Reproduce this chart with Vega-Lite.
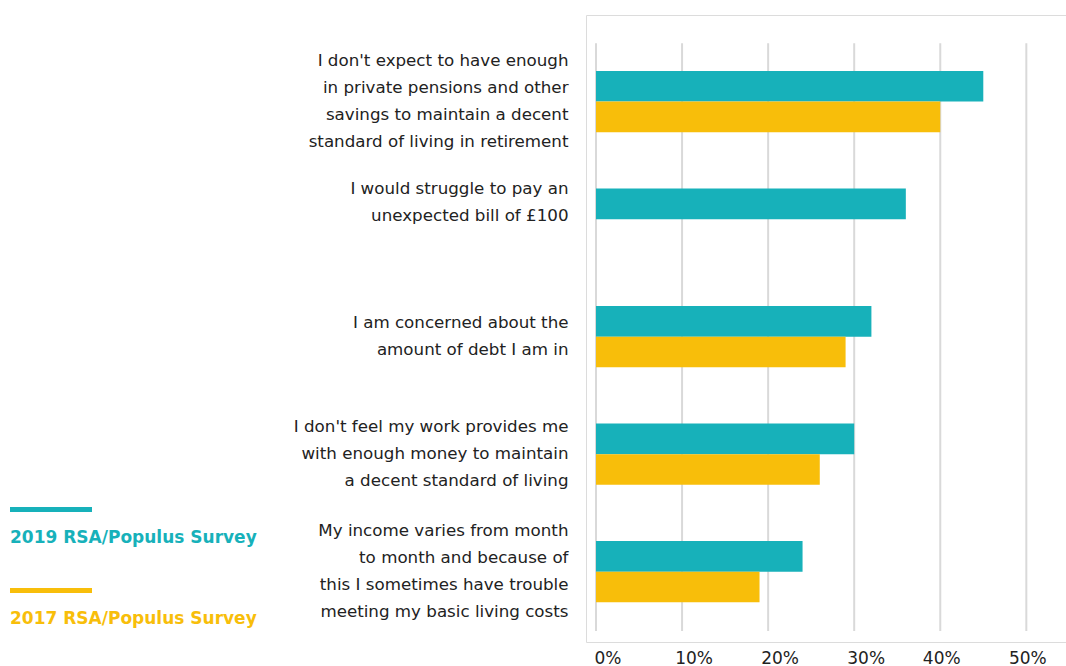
{
  "$schema": "https://vega.github.io/schema/vega-lite/v6.json",
  "width": 480,
  "height": 627,
  "autosize": "none",
  "padding": {"left": 586, "top": 15, "right": 0, "bottom": 24},
  "background": "white",
  "config": {
    "view": {"stroke": "#dcdcdc", "strokeWidth": 1},
    "font": "DejaVu Sans"
  },
  "datasets": {
    "survey": [
      {"statement": "I don't expect to have enough\nin private pensions and other\nsavings to maintain a decent\nstandard of living in retirement", "survey": "2019 RSA/Populus Survey", "pct": 45},
      {"statement": "I don't expect to have enough\nin private pensions and other\nsavings to maintain a decent\nstandard of living in retirement", "survey": "2017 RSA/Populus Survey", "pct": 40},
      {"statement": "I would struggle to pay an\nunexpected bill of £100", "survey": "2019 RSA/Populus Survey", "pct": 36},
      {"statement": "I am concerned about the\namount of debt I am in", "survey": "2019 RSA/Populus Survey", "pct": 32},
      {"statement": "I am concerned about the\namount of debt I am in", "survey": "2017 RSA/Populus Survey", "pct": 29},
      {"statement": "I don't feel my work provides me\nwith enough money to maintain\na decent standard of living", "survey": "2019 RSA/Populus Survey", "pct": 30},
      {"statement": "I don't feel my work provides me\nwith enough money to maintain\na decent standard of living", "survey": "2017 RSA/Populus Survey", "pct": 26},
      {"statement": "My income varies from month\nto month and because of\nthis I sometimes have trouble\nmeeting my basic living costs", "survey": "2019 RSA/Populus Survey", "pct": 24},
      {"statement": "My income varies from month\nto month and because of\nthis I sometimes have trouble\nmeeting my basic living costs", "survey": "2017 RSA/Populus Survey", "pct": 19}
    ],
    "ticks": [{"pct": 0}, {"pct": 10}, {"pct": 20}, {"pct": 30}, {"pct": 40}, {"pct": 50}]
  },
  "layer": [
    {
      "data": {"name": "ticks"},
      "mark": {"type": "rule", "color": "#d9d9d9", "strokeWidth": 2},
      "encoding": {
        "x": {
          "field": "pct", "type": "quantitative",
          "scale": {"domain": [-1.162, 54.61], "nice": false, "zero": false},
          "axis": {
            "values": [0, 10, 20, 30, 40, 50],
            "labelExpr": "datum.value + '%'",
            "grid": false, "domain": false, "ticks": false,
            "labelPadding": 8, "labelFont": "DejaVu Sans", "labelFontSize": 17,
            "labelColor": "#222222", "title": null, "labelFlush": false, "labelOverlap": false,
            "labelOffset": {"condition": {"test": "datum.value >= 40", "value": 1}, "value": 11.5}
          }
        },
        "y": {"datum": 0, "type": "quantitative", "scale": {"domain": [-0.01871, 1.04816], "nice": false, "zero": false}, "axis": null},
        "y2": {"datum": 1}
      }
    },
    {
      "data": {"name": "survey"},
      "mark": {"type": "bar"},
      "encoding": {
        "y": {
          "field": "statement", "type": "nominal",
          "sort": [
            "I don't expect to have enough\nin private pensions and other\nsavings to maintain a decent\nstandard of living in retirement",
            "I would struggle to pay an\nunexpected bill of £100",
            "I am concerned about the\namount of debt I am in",
            "I don't feel my work provides me\nwith enough money to maintain\na decent standard of living",
            "My income varies from month\nto month and because of\nthis I sometimes have trouble\nmeeting my basic living costs"
          ],
          "scale": {"paddingInner": 0.478, "paddingOuter": 0.407, "align": 0.585},
          "axis": {
            "title": null, "domain": false, "ticks": false, "labelPadding": 18,
            "labelAlign": "right", "labelBaseline": "middle",
            "labelFont": "DejaVu Sans", "labelFontSize": 16.7, "labelColor": "#222222",
            "labelLineHeight": 27, "labelLimit": 500,
            "labelExpr": "split(datum.label, '\\n')",
            "labelOffset": {
              "condition": [
                {"test": "indexof(datum.value, 'struggle') >= 0", "value": -30},
                {"test": "indexof(datum.value, 'concerned') >= 0", "value": -13.5},
                {"test": "indexof(datum.value, 'work provides') >= 0", "value": -27}
              ],
              "value": -40.5
            }
          }
        },
        "yOffset": {
          "field": "survey", "type": "nominal",
          "sort": ["2019 RSA/Populus Survey", "2017 RSA/Populus Survey"],
          "scale": {"paddingInner": 0, "paddingOuter": 0}
        },
        "x": {
          "field": "pct", "type": "quantitative",
          "scale": {"domain": [-1.162, 54.61], "nice": false, "zero": false},
          "axis": {
            "values": [0, 10, 20, 30, 40, 50],
            "labelExpr": "datum.value + '%'",
            "grid": false, "domain": false, "ticks": false,
            "labelPadding": 8, "labelFont": "DejaVu Sans", "labelFontSize": 17,
            "labelColor": "#222222", "title": null, "labelFlush": false, "labelOverlap": false,
            "labelOffset": {"condition": {"test": "datum.value >= 40", "value": 1}, "value": 11.5}
          }
        },
        "x2": {"datum": 0},
        "color": {
          "field": "survey", "type": "nominal",
          "sort": ["2019 RSA/Populus Survey", "2017 RSA/Populus Survey"],
          "scale": {"range": ["#17b1ba", "#f8be0a"]},
          "legend": {
            "orient": "none", "legendX": -576, "legendY": 482,
            "title": null, "direction": "vertical", "padding": 0,
            "symbolType": "M-1,-0.756H1V-0.634H-1Z", "symbolSize": 6724, "symbolStrokeWidth": 0,
            "labelFont": "DejaVu Sans", "labelFontSize": 17, "labelFontWeight": "bold",
            "labelOffset": -82, "labelLimit": 400, "rowPadding": 32,
            "labelColor": {"expr": "indexof(datum.label, '2019') >= 0 ? '#17b1ba' : '#f8be0a'"}
          }
        }
      }
    }
  ],
  "resolve": {"scale": {"y": "independent"}}
}
